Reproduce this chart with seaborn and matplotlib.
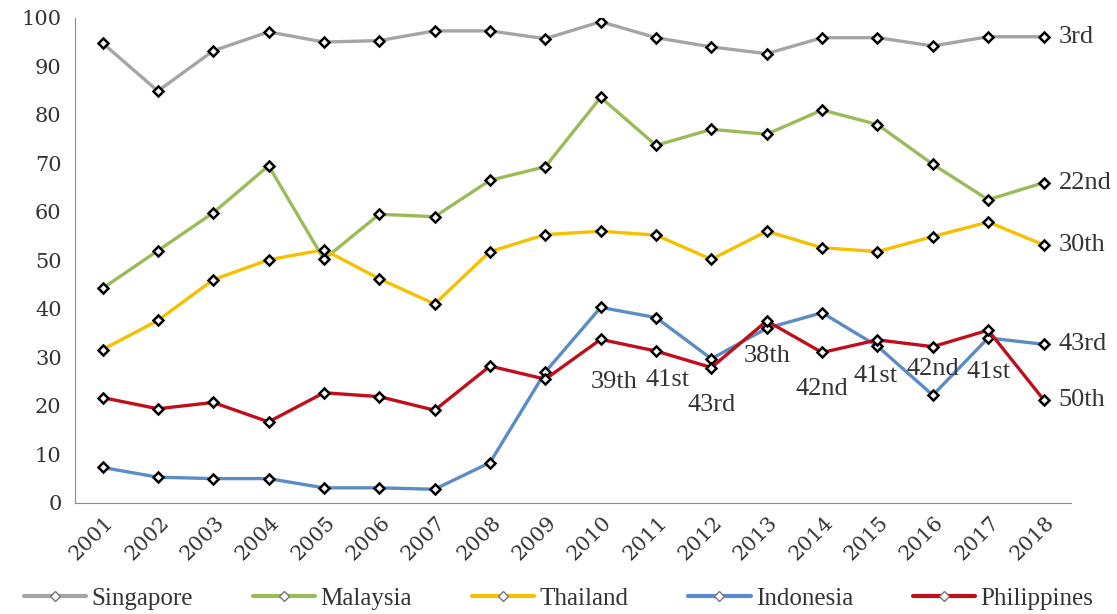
import numpy as np
import pandas as pd
import matplotlib
matplotlib.use("Agg")
import matplotlib.pyplot as plt
import seaborn as sns
from matplotlib.lines import Line2D
from matplotlib.transforms import ScaledTranslation

#%% data
years = list(range(2001, 2019))
singapore = [94.8, 84.9, 93.2, 97.1, 95.0, 95.3, 97.3, 97.3, 95.7, 99.2,
             95.9, 94.0, 92.6, 95.9, 95.9, 94.2, 96.1, 96.1]
malaysia = [44.2, 52.0, 59.8, 69.5, 50.2, 59.5, 59.0, 66.5, 69.3, 83.6,
            73.7, 77.0, 76.0, 81.0, 78.0, 69.8, 62.5, 66.0]
thailand = [31.6, 37.6, 46.0, 50.1, 52.2, 46.2, 41.0, 51.8, 55.3, 56.0,
            55.2, 50.2, 56.0, 52.6, 51.8, 54.9, 57.9, 53.2]
indonesia = [7.3, 5.3, 5.0, 5.0, 3.1, 3.1, 2.8, 8.3, 27.0, 40.3,
             38.2, 29.7, 36.0, 39.2, 32.3, 22.2, 34.0, 32.7]
philippines = [21.7, 19.4, 20.7, 16.7, 22.7, 21.9, 19.1, 28.2, 25.5, 33.7,
               31.3, 27.9, 37.5, 31.0, 33.6, 32.2, 35.6, 21.3]

countries = ["Singapore", "Malaysia", "Thailand", "Indonesia", "Philippines"]
colors = ["#A5A5A5", "#9BBB59", "#F5C000", "#5B8CC4", "#C00F1C"]
end_ranks = ["3rd", "22nd", "30th", "43rd", "50th"]
phil_rank_years = [2010, 2011, 2012, 2013, 2014, 2015, 2016, 2017]
phil_ranks = ["39th", "41st", "43rd", "38th", "42nd", "41st", "42nd", "41st"]

df = pd.DataFrame({"year": years, "Singapore": singapore, "Malaysia": malaysia,
                   "Thailand": thailand, "Indonesia": indonesia,
                   "Philippines": philippines})
long = df.melt(id_vars="year", var_name="country", value_name="score")

#%% plot
sns.set_style("white")
plt.rcParams["font.family"] = ["Liberation Serif", "DejaVu Serif"]
txt_col = "#333333"
tick_font = "DejaVu Serif"

fig, ax = plt.subplots(figsize=(11.17, 6.14), dpi=100)
fig.subplots_adjust(left=0.067, right=0.959, bottom=0.181, top=0.971)

sns.lineplot(data=long, x="year", y="score", hue="country", hue_order=countries,
             palette=colors, lw=2.4, marker="D", markersize=5, mfc="white",
             mec="black", mew=1.8, ax=ax, legend=False)

ax.set_xlim(2000.5, 2018.5)
ax.set_ylim(0, 100)
ax.set_yticks(range(0, 101, 10))
ax.set_xticks(years)
ax.set_xticks(np.arange(2000.5, 2019, 1), minor=True)
ax.set_xlabel("")
ax.set_ylabel("")
sns.despine(ax=ax)
for s in ["left", "bottom"]:
    ax.spines[s].set_color("#8C8C8C")
ax.tick_params(axis="y", length=6, color="#8C8C8C", labelsize=15, labelcolor=txt_col)
ax.tick_params(axis="x", which="major", length=0, pad=12, labelsize=15, labelcolor=txt_col)
ax.tick_params(axis="x", which="minor", length=6, color="#8C8C8C")
for lbl in ax.get_yticklabels():
    lbl.set_family(tick_font)
for lbl in ax.get_xticklabels():
    lbl.set_family(tick_font)
    lbl.set_rotation(45)
    lbl.set_ha("right")
    lbl.set_va("center")
    lbl.set_rotation_mode("anchor")
    lbl.set_transform(lbl.get_transform() + ScaledTranslation(0.08, 0, fig.dpi_scale_trans))

# rank labels at the end of each line
for c, r in zip(countries, end_ranks):
    ax.annotate(r, (years[-1], df[c].iloc[-1]), xytext=(15, 0),
                textcoords="offset pixels", ha="left", va="center",
                fontsize=19, color=txt_col)

# philippines yearly ranks
phil_offsets = [(13, -43), (12, -29), (0, -37), (0, -35), (0, -37), (-2, -36), (0, -22), (0, -42)]
for yr, r, off in zip(phil_rank_years, phil_ranks, phil_offsets):
    ax.annotate(r, (yr, philippines[years.index(yr)]), xytext=off,
                textcoords="offset pixels", ha="center", va="center",
                fontsize=19, color=txt_col)

handles = [Line2D([], [], color=c, lw=3, marker="D", ms=5, mfc="white", mec="#777777", mew=1)
           for c in colors]
fig.legend(handles, countries, loc="center", bbox_to_anchor=(0.5, 0.025), ncol=5,
           frameon=False, fontsize=18, handlelength=2.5, columnspacing=2.4,
           handletextpad=0.2, labelcolor=txt_col)

plt.savefig("out.png", dpi=100)
